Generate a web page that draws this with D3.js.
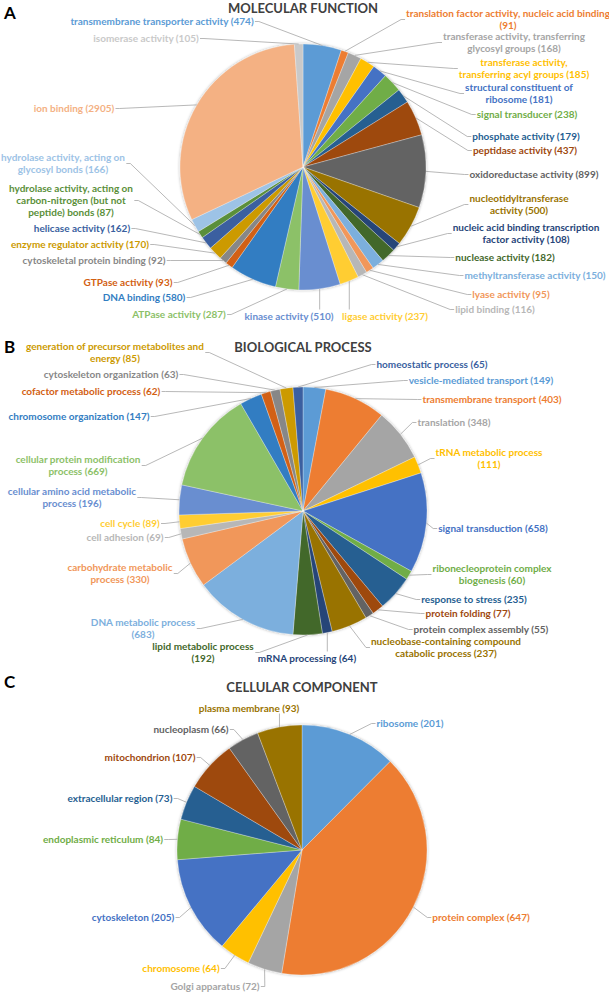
<!DOCTYPE html>
<html>
<head>
<meta charset="utf-8">
<script src="https://cdn.jsdelivr.net/npm/d3@7"></script>
<style>
  body { margin: 0; background: #fff; }
  svg { display: block; font-family: Lato, "Open Sans", sans-serif; }
</style>
</head>
<body>
<svg id="chart" width="609" height="992"></svg>
<script>
// ---- A: molecular function (clockwise from 12 o'clock) ----
const mfNames = [
  "transmembrane transporter activity",
  "translation factor activity, nucleic acid binding\n",
  "transferase activity, transferring\nglycosyl groups",
  "transferase activity,\ntransferring acyl groups",
  "structural constituent of\nribosome",
  "signal transducer",
  "phosphate activity",
  "peptidase activity",
  "oxidoreductase activity",
  "nucleotidyltransferase\nactivity",
  "nucleic acid binding transcription\nfactor activity",
  "nuclease activity",
  "methyltransferase activity",
  "lyase activity",
  "lipid binding",
  "ligase activity",
  "kinase activity",
  "ATPase activity",
  "DNA binding",
  "GTPase activity",
  "cytoskeletal protein binding",
  "enzyme regulator activity",
  "helicase activity",
  "hydrolase activity, acting on\ncarbon-nitrogen (but not\npeptide) bonds",
  "hydrolase activity, acting on\nglycosyl bonds",
  "ion binding",
  "isomerase activity"
];
const mfValues = [474, 91, 168, 185, 181, 238, 179, 437, 899, 500, 108, 182, 150, 95,
  116, 237, 510, 287, 580, 93, 92, 170, 162, 87, 166, 2905, 105];

// ---- B: biological process ----
const bpNames = [
  "vesicle-mediated transport",
  "transmembrane transport",
  "translation",
  "tRNA metabolic process\n",
  "signal transduction",
  "ribonecleoprotein complex\nbiogenesis",
  "response to stress",
  "protein folding",
  "protein complex assembly",
  "nucleobase-containing compound\ncatabolic process",
  "mRNA processing",
  "lipid metabolic process\n",
  "DNA metabolic process\n",
  "carbohydrate metabolic\nprocess",
  "cell adhesion",
  "cell cycle",
  "cellular amino acid metabolic\nprocess",
  "cellular protein modification\nprocess",
  "chromosome organization",
  "cofactor metabolic process",
  "cytoskeleton organization",
  "generation of precursor metabolites and\nenergy",
  "homeostatic process"
];
const bpValues = [149, 403, 348, 111, 658, 60, 235, 77, 55, 237, 64, 192, 683, 330,
  69, 89, 196, 669, 147, 62, 63, 85, 65];

// ---- C: cellular component ----
const ccNames = [
  "ribosome", "protein complex", "Golgi apparatus", "chromosome", "cytoskeleton",
  "endoplasmic reticulum", "extracellular region", "mitochondrion", "nucleoplasm",
  "plasma membrane"
];
const ccValues = [201, 647, 72, 64, 205, 84, 73, 107, 66, 93];

// Excel-style point colours
const palette = ["#5B9BD5", "#ED7D31", "#A5A5A5", "#FFC000", "#4472C4", "#70AD47",
  "#255E91", "#9E480E", "#636363", "#997300", "#264478", "#43682B",
  "#7CAFDD", "#F1975A", "#B7B7B7", "#FFCD33", "#698ED0", "#8CC168",
  "#327DC2", "#D26012", "#878787", "#CC9A00", "#3A5FA0", "#5A8F3A",
  "#9DC3E6", "#F4B183", "#C9C9C9"];

// label layout: [centre x, first line y, attach side]
const mfLabelPos = [
  [162, 21], [508, 13], [514, 36], [524, 62], [519, 87], [527, 114], [526, 136],
  [525, 150], [534, 174], [519, 198], [526, 227], [505, 257], [535, 275], [511, 294],
  [495, 309], [385, 316, "t"], [289, 316, "t"], [179, 314], [144, 297], [128, 282],
  [94, 260], [80, 244], [82, 228], [71, 188], [63, 157], [74, 108], [146, 38]
];
const bpLabelPos = [
  [481, 380], [492, 399], [454, 422], [489, 452], [493, 528], [492, 568], [474, 599],
  [468, 613], [481, 629], [446, 641], [307, 658, "t"], [203, 646], [143, 622],
  [120, 567], [125, 537], [130, 523], [72, 491], [78, 459], [79, 416], [91, 391],
  [111, 374], [115, 346], [432, 364]
];
const ccLabelPos = [
  [410, 723], [481, 917], [215, 986], [181, 968], [133, 917], [103, 839],
  [120, 798], [150, 757], [191, 729], [249, 708, "b"]
];

const svg = d3.select("#chart");
const filter = svg.append("defs").append("filter").attr("id", "shadow")
  .attr("x", "-10%").attr("y", "-10%").attr("width", "120%").attr("height", "120%");
filter.append("feDropShadow").attr("dx", 0).attr("dy", 0)
  .attr("stdDeviation", 1.6).attr("flood-color", "#000").attr("flood-opacity", 0.35);

function drawPie(p) {
  const color = d3.scaleOrdinal().domain(d3.range(p.values.length)).range(palette);
  const arcs = d3.pie().sort(null).value(d => d)(p.values);
  const arc = d3.arc().innerRadius(0).outerRadius(p.r);

  svg.append("text").attr("x", 4).attr("y", p.letterY)
    .attr("font-size", 17).attr("font-weight", 700).attr("fill", "#000").text(p.letter);
  svg.append("text").attr("x", p.cx).attr("y", p.titleY).attr("text-anchor", "middle")
    .attr("font-size", 13).attr("font-weight", 700).attr("fill", "#404040").text(p.title);

  svg.append("g").attr("transform", `translate(${p.cx},${p.cy})`)
    .attr("filter", "url(#shadow)")
    .selectAll("path").data(arcs).join("path")
    .attr("d", arc)
    .attr("fill", (d, i) => color(i))
    .attr("stroke", "#fff").attr("stroke-width", 0.3);

  const lineG = svg.append("g");
  const textG = svg.append("g");

  arcs.forEach((d, i) => {
    const [lx, ly, side] = p.labels[i];
    const name = p.names[i];
    const txt = name.endsWith("\n") ? name + "(" + p.values[i] + ")" : name + " (" + p.values[i] + ")";
    const t = textG.append("text")
      .attr("text-anchor", "middle").attr("fill", color(i))
      .attr("font-size", 10).attr("font-weight", 700);
    txt.split("\n").forEach((s, k) => {
      t.append("tspan").attr("x", lx).attr("y", ly + k * 12).attr("dy", "0.35em").text(s.trim());
    });
    const bb = t.node().getBBox();

    const a = (d.startAngle + d.endAngle) / 2;
    const ex = p.cx + p.r * Math.sin(a);
    const ey = p.cy - p.r * Math.cos(a);
    const s = side || (lx < p.cx ? "r" : "l");
    let pts;
    if (s === "r") {
      const y = bb.y + bb.height / 2 + 1;
      pts = [[bb.x + bb.width + 1, y], [bb.x + bb.width + 5, y], [ex, ey]];
    } else if (s === "l") {
      const y = bb.y + bb.height / 2 + 1;
      pts = [[bb.x - 1, y], [bb.x - 5, y], [ex, ey]];
    } else if (s === "t") {
      const x = Math.max(bb.x + 4, Math.min(bb.x + bb.width - 4, ex));
      pts = [[x, bb.y], [ex, ey]];
    } else {
      const x = Math.max(bb.x + 4, Math.min(bb.x + bb.width - 4, ex));
      pts = [[x, bb.y + bb.height], [ex, ey]];
    }
    lineG.append("path").attr("d", d3.line()(pts))
      .attr("fill", "none").attr("stroke", "#A6A6A6").attr("stroke-width", 0.8);
  });
}

drawPie({ names: mfNames, values: mfValues, labels: mfLabelPos,
  cx: 303, cy: 167, r: 123, title: "MOLECULAR FUNCTION", titleY: 13, letter: "A", letterY: 19 });
drawPie({ names: bpNames, values: bpValues, labels: bpLabelPos,
  cx: 303, cy: 511, r: 124, title: "BIOLOGICAL PROCESS", titleY: 352, letter: "B", letterY: 353 });
drawPie({ names: ccNames, values: ccValues, labels: ccLabelPos,
  cx: 302, cy: 850, r: 125, title: "CELLULAR COMPONENT", titleY: 692, letter: "C", letterY: 688 });
</script>
</body>
</html>
